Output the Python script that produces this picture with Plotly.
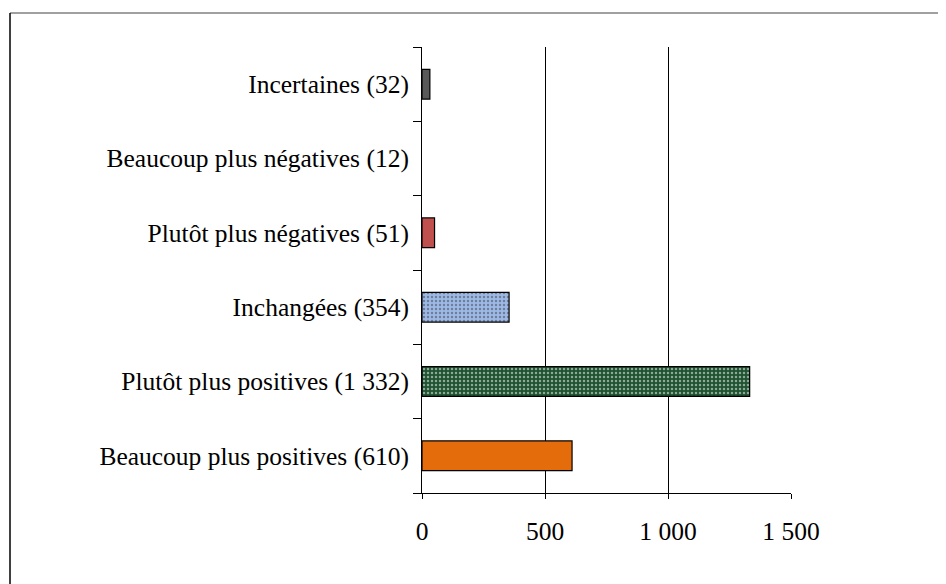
import plotly.graph_objects as go

categories = [
    "Beaucoup plus positives (610)",
    "Plutôt plus positives (1 332)",
    "Inchangées (354)",
    "Plutôt plus négatives (51)",
    "Beaucoup plus négatives (12)",
    "Incertaines (32)",
]
values = [610, 1332, 354, 51, 12, 32]
bar_colors = ["#E46C0A", "#1E5230", "#9DB9E8", "#C0504D", "rgba(255,255,255,0)", "#595959"]
pattern_shapes = ["", ".", ".", "", "", ""]
pattern_fg = ["#E46C0A", "#3F7C4E", "#33549A", "#C0504D", "#FFFFFF", "#595959"]
line_widths = [1.2, 1.2, 1.2, 1.2, 0, 1.2]
tick_vals = [0, 500, 1000, 1500]
tick_text = ["0", "500", "1 000", "1 500"]

# plot area geometry (figure pixels)
L, T, W, H = 414, 39, 369, 446

fig = go.Figure()
fig.add_trace(go.Bar(
    x=values,
    y=categories,
    orientation="h",
    width=0.4,
    marker=dict(
        color=bar_colors,
        line=dict(color="#000000", width=line_widths),
        pattern=dict(shape=pattern_shapes, fgcolor=pattern_fg, size=4, solidity=0.3),
    ),
    showlegend=False,
))

font = dict(family="Liberation Serif, Times New Roman, serif", size=25.5, color="#000000")

fig.update_layout(
    width=946,
    height=584,
    margin=dict(l=L, r=946 - L - W, t=T, b=584 - T - H, pad=0),
    paper_bgcolor="white",
    plot_bgcolor="white",
    font=font,
    xaxis=dict(
        range=[0, 1500],
        tickvals=tick_vals,
        ticktext=tick_text,
        showgrid=True,
        gridcolor="#000000",
        gridwidth=1,
        zeroline=False,
        showline=True,
        linecolor="#000000",
        linewidth=1,
        ticks="outside",
        ticklen=5,
        tickcolor="#000000",
        ticklabelstandoff=10,
        tickfont=font,
        fixedrange=True,
    ),
    yaxis=dict(
        type="category",
        categoryorder="array",
        categoryarray=categories,
        showgrid=False,
        zeroline=False,
        showline=True,
        linecolor="#000000",
        linewidth=1,
        ticks="outside",
        tickson="boundaries",
        ticklen=8,
        tickcolor="#000000",
        ticklabelstandoff=7,
        tickfont=font,
        fixedrange=True,
    ),
    bargap=0.6,
    shapes=[
        dict(type="line", xref="paper", yref="paper",
             x0=(2 - L) / W, x1=(980 - L) / W,
             y0=(T + H - 5) / H, y1=(T + H - 5) / H,
             line=dict(color="#808080", width=1.5)),
        dict(type="line", xref="paper", yref="paper",
             x0=(2 - L) / W, x1=(2 - L) / W,
             y0=(T + H - 5) / H, y1=(T + H - 620) / H,
             line=dict(color="#000000", width=1.5)),
    ],
)

fig.write_html("out.html")
